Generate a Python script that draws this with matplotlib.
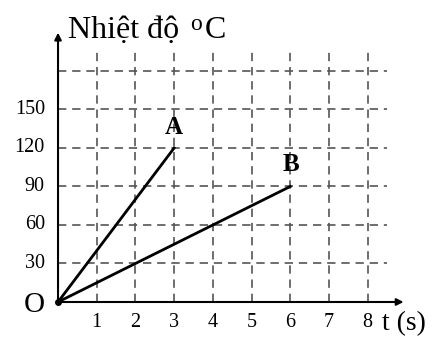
import numpy as np
import matplotlib.pyplot as plt

# data
t_ticks = [1, 2, 3, 4, 5, 6, 7, 8]
temp_ticks = [30, 60, 90, 120, 150]
grid_y = [30, 60, 90, 120, 150, 180]
line_a_t = [0, 3]
line_a_temp = [0, 120]
line_b_t = [0, 6]
line_b_temp = [0, 90]

serif = 'Liberation Serif'

fig = plt.figure(figsize=(4.35, 3.38), dpi=100)
ax = fig.add_axes([0, 0, 1, 1])
ax.set_xlim(-1.499, 9.74)
ax.set_ylim(-28.05, 235.3)
ax.axis('off')

# dashed grid
for x in t_ticks:
    ax.plot([x, x], [0, 195], color='#555555', lw=1.2, ls=(0, (5, 3.5)))
for y in grid_y:
    ax.plot([0, 8.5], [y, y], color='#555555', lw=1.2, ls=(0, (5, 3.5)))

# axes with arrows
ax.annotate('', xy=(9.0, 0), xytext=(0, 0),
            arrowprops=dict(arrowstyle='-|>', color='black', lw=1.5, mutation_scale=10))
ax.annotate('', xy=(0, 212), xytext=(0, 0),
            arrowprops=dict(arrowstyle='-|>', color='black', lw=1.5, mutation_scale=10))

# lines A and B
ax.plot(line_a_t, line_a_temp, color='black', lw=2)
ax.plot(line_b_t, line_b_temp, color='black', lw=2)
ax.plot(0, 0, 'o', color='black', ms=4)

# tick labels
for x in t_ticks:
    ax.text(x, -15.6, str(x), family=serif, fontsize=14.5, ha='center', va='center')
for y in temp_ticks:
    ax.text(-0.34, y, str(y), family=serif, fontsize=14.5, ha='right', va='center')

ax.text(3, 136, 'A', family=serif, fontsize=18, fontweight='bold', ha='center', va='center')
ax.text(6.02, 107, 'B', family=serif, fontsize=18, fontweight='bold', ha='center', va='center')

ax.text(-0.62, -2.3, 'O', family=serif, fontsize=21, ha='center', va='center')
ax.text(8.37, -17, 't (s)', family=serif, fontsize=20, ha='left', va='center')

ax.text(0.26, 205.7, 'Nhiệt độ', family=serif, fontsize=23, ha='left', va='baseline')
ax.text(3.41, 212, 'o', family=serif, fontsize=17, ha='left', va='baseline')
ax.text(3.80, 205.7, 'C', family=serif, fontsize=23, ha='left', va='baseline')

fig.savefig('out.png', dpi=100)
